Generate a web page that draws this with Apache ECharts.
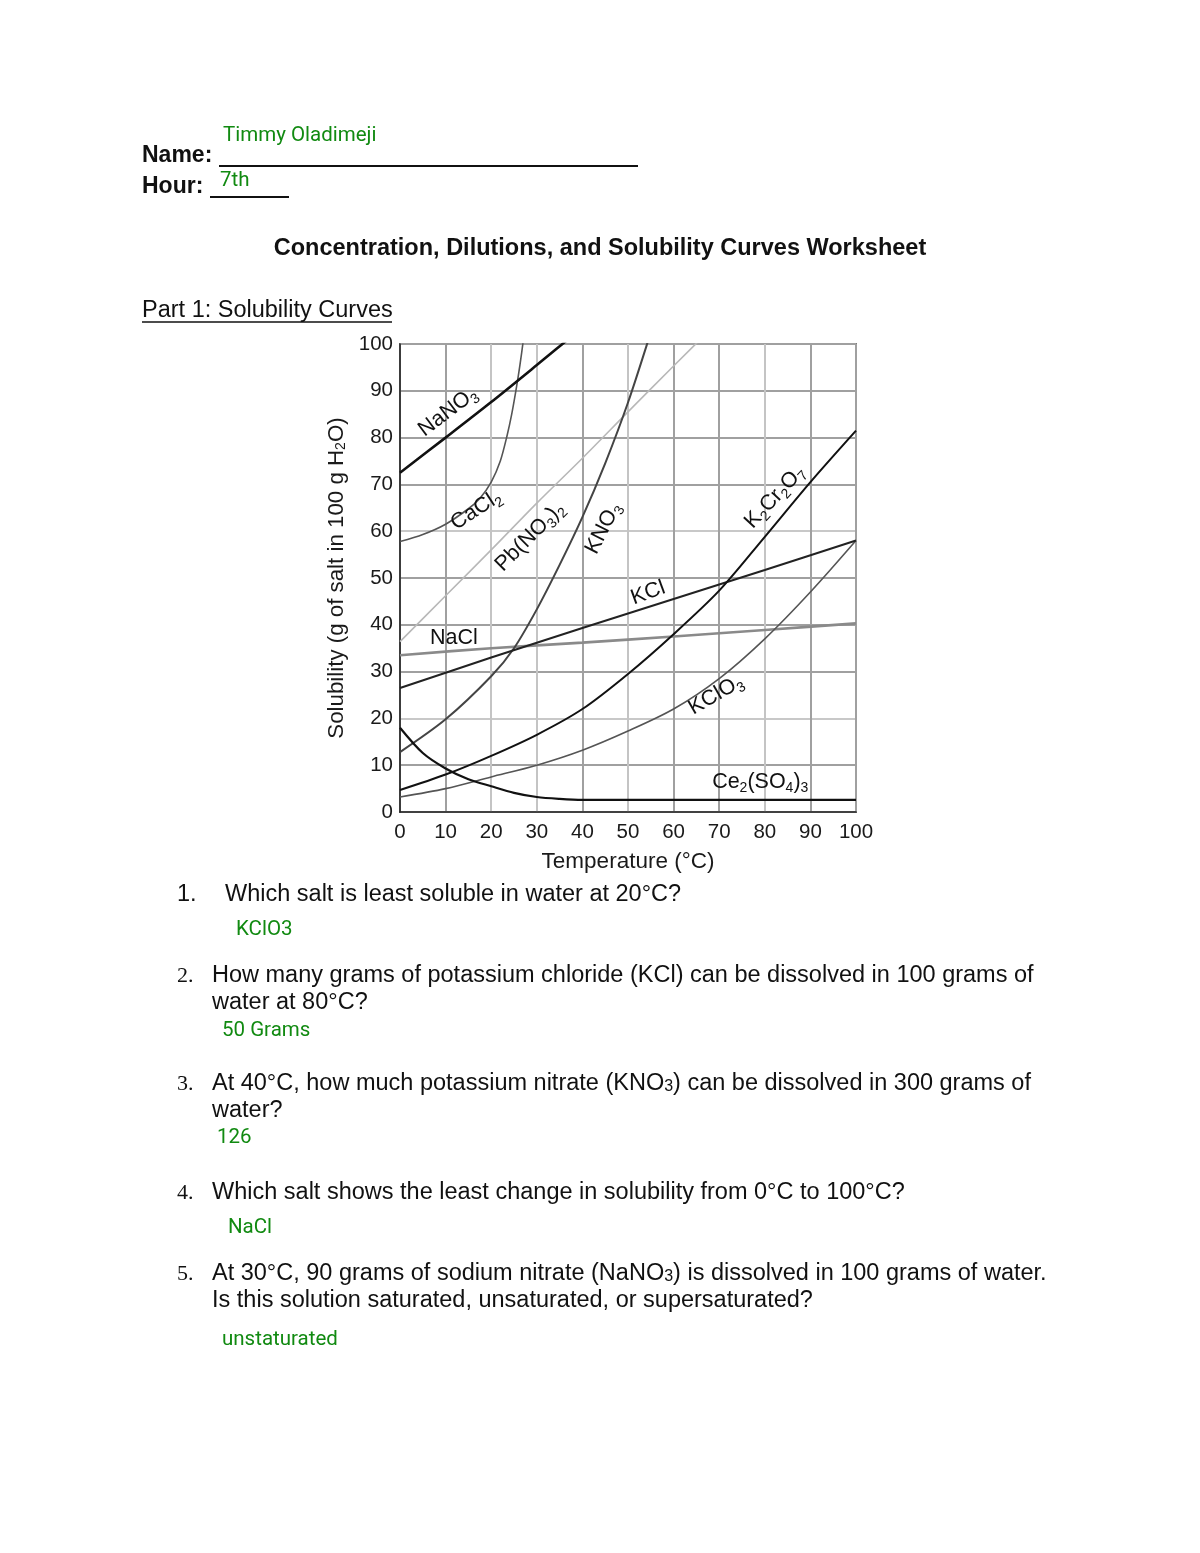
<!DOCTYPE html>
<html>
<head>
<meta charset="utf-8">
<script src="https://cdn.jsdelivr.net/npm/echarts@6/dist/echarts.min.js"></script>
<style>
html,body{margin:0;padding:0;background:#fff;}
#chart{width:1200px;height:1553px;}
</style>
</head>
<body>
<div id="chart"></div>
<script>
// ---- Data (temperature °C, solubility g / 100 g H2O) ----
const xTicks = [0, 10, 20, 30, 40, 50, 60, 70, 80, 90, 100];
const yTicks = [0, 10, 20, 30, 40, 50, 60, 70, 80, 90, 100];

const nano3 = [[0,72.5],[10,80],[20,87.6],[30,95.5],[40,103.5]];
const cacl2 = [[0,57.8],[5,59.3],[10,61.5],[15,64.8],[17.5,67],[20,70.5],[22,75],[23.5,80.5],[24.5,85],[25.5,90.5],[26.3,95.5],[27,100.5],[27.5,105]];
const pbno32 = [[0,36.4],[10,46.2],[20,56],[30,66],[40,75.6],[50,85.5],[60,95.3],[70,105]];
const kno3 = [[0,12.8],[10,19.8],[20,29],[25,35],[30,43.3],[35,52.8],[40,63],[45,74.5],[50,87.5],[55,102.5],[60,118]];
const kcl = [[0,26.5],[20,33],[40,39.3],[60,45.5],[80,51.7],[100,58]];
const nacl = [[0,33.5],[20,35],[40,36.2],[60,37.5],[80,38.9],[100,40.3]];
const k2cr2o7 = [[0,4.7],[10,8],[20,12],[30,16.5],[40,22],[50,29.5],[60,38],[70,47.3],[80,58.8],[90,70.5],[100,81.5]];
const kclo3 = [[0,3.2],[10,5],[20,7.5],[30,10],[40,13.2],[50,17.3],[60,22],[70,28.5],[80,37],[90,47],[100,58]];
const ce2so43 = [[0,18],[5,12.6],[10,9.3],[15,7],[20,5.5],[25,4.1],[30,3.2],[35,2.8],[40,2.6],[60,2.6],[80,2.6],[100,2.6]];

// curve labels: [T, S, text, rotation in degrees]
const curveLabels = [
  [10.5, 85.5, '{n|NaNO}{s|3}', 37],
  [16.7, 64.5, '{n|CaCl}{s|2}', 33],
  [28.5, 58.8, '{n|Pb(NO}{s|3}{n|)}{s|2}', 45],
  [44.6, 60.6, '{n|KNO}{s|3}', 63],
  [82.2, 67.3, '{n|K}{s|2}{n|Cr}{s|2}{n|O}{s|7}', 47],
  [54.4, 46.8, '{n|KCl}', 20],
  [11.8, 37.2, '{n|NaCl}', 0],
  [69.3, 25.0, '{n|KClO}{s|3}', 30],
  [79.0, 6.4, '{n|Ce}{s|2}{n|(SO}{s|4}{n|)}{s|3}', 0]
];

const FONT = '"Liberation Sans", Arial, Helvetica, sans-serif';
const INK = '#111';
const labelRich = {
  n: {fontSize: 21.5, fontFamily: FONT, fill: INK, lineHeight: 27, verticalAlign: 'middle'},
  s: {fontSize: 14, fontFamily: FONT, fill: INK, lineHeight: 15, verticalAlign: 'bottom'}
};

function curve(name, data, color, width) {
  return {
    name: name, type: 'line', data: data, smooth: 0.3, symbol: 'none',
    clip: true, silent: true,
    lineStyle: {color: color, width: width}
  };
}

const series = [
  curve('Pb(NO3)2', pbno32, '#b8b8b8', 1.6),
  curve('NaCl', nacl, '#8a8a8a', 2.6),
  curve('CaCl2', cacl2, '#555', 1.6),
  curve('KClO3', kclo3, '#555', 1.6),
  curve('KNO3', kno3, '#444', 2),
  curve('KCl', kcl, '#222', 2),
  curve('K2Cr2O7', k2cr2o7, '#111', 2),
  curve('Ce2(SO4)3', ce2so43, '#111', 2.2),
  curve('NaNO3', nano3, '#111', 2.6)
];

const GREEN = '#118a11';
function txt(x, y, text, opts) {
  opts = opts || {};
  return {
    type: 'text', silent: true,
    style: Object.assign({
      x: x, y: y, text: text,
      font: opts.font || ('23.5px ' + FONT),
      fill: opts.fill || INK,
      textAlign: opts.align || 'left', align: opts.align || 'left',
      textVerticalAlign: 'middle', verticalAlign: 'middle'
    }, opts.extra || {})
  };
}
function hline(x1, x2, y, w) {
  return {type: 'line', silent: true, shape: {x1: x1, y1: y, x2: x2, y2: y}, style: {stroke: INK, lineWidth: w || 1.6}};
}
const GF = '20.5px Roboto, "Noto Sans", sans-serif';
const QF = '23.5px ' + FONT;
const NF = '22px "Liberation Serif", "DejaVu Serif", serif';
const subRich = {rich: {s: {font: '16px ' + FONT, fill: INK, padding: [6, 0, 0, 0]}}};

const pageText = [
  txt(223, 136, 'Timmy Oladimeji', {font: GF, fill: GREEN}),
  txt(142, 156, 'Name:', {font: 'bold 23px ' + FONT}),
  hline(219, 638, 166, 1.8),
  txt(220, 181, '7th', {font: GF, fill: GREEN}),
  txt(142, 187, 'Hour:', {font: 'bold 23px ' + FONT}),
  hline(210, 289, 197, 1.8),
  txt(600, 249, 'Concentration, Dilutions, and Solubility Curves Worksheet', {font: 'bold 23.5px ' + FONT, align: 'center'}),
  txt(142, 311, 'Part 1: Solubility Curves', {font: QF}),
  hline(142, 392, 322, 1.4),

  txt(177, 895, '1.', {font: QF}),
  txt(225, 895, 'Which salt is least soluble in water at 20°C?', {font: QF}),
  txt(236, 930, 'KClO3', {font: GF, fill: GREEN}),

  txt(177, 976, '2.', {font: NF}),
  txt(212, 976, 'How many grams of potassium chloride (KCl) can be dissolved in 100 grams of', {font: QF}),
  txt(212, 1003, 'water at 80°C?', {font: QF}),
  txt(222, 1031, '50 Grams', {font: GF, fill: GREEN}),

  txt(177, 1084, '3.', {font: NF}),
  txt(212, 1084, 'At 40°C, how much potassium nitrate (KNO{s|3}) can be dissolved in 300 grams of', {font: QF, extra: subRich}),
  txt(212, 1111, 'water?', {font: QF}),
  txt(217, 1138, '126', {font: GF, fill: GREEN}),

  txt(177, 1193, '4.', {font: NF}),
  txt(212, 1193, 'Which salt shows the least change in solubility from 0°C to 100°C?', {font: QF}),
  txt(228, 1228, 'NaCl', {font: GF, fill: GREEN}),

  txt(177, 1274, '5.', {font: NF}),
  txt(212, 1274, 'At 30°C, 90 grams of sodium nitrate (NaNO{s|3}) is dissolved in 100 grams of water.', {font: QF, extra: subRich}),
  txt(212, 1301, 'Is this solution saturated, unsaturated, or supersaturated?', {font: QF}),
  txt(222, 1340, 'unstaturated', {font: GF, fill: GREEN})
];

const chart = echarts.init(document.getElementById('chart'), null, {renderer: 'canvas'});
chart.setOption({
  animation: false,
  backgroundColor: '#fff',
  grid: {left: 400, top: 344, width: 456, height: 468, show: true, borderColor: '#222', borderWidth: 1.6, containLabel: false},
  xAxis: {
    type: 'value', min: xTicks[0], max: xTicks[xTicks.length - 1], interval: 10,
    name: 'Temperature (°C)', nameLocation: 'middle', nameGap: 38,
    nameTextStyle: {fontSize: 22.5, fontFamily: FONT, color: '#1a1a1a'},
    axisLine: {show: true, lineStyle: {color: '#222', width: 1.6}},
    axisTick: {show: false},
    axisLabel: {fontSize: 20.5, fontFamily: FONT, color: '#1a1a1a', margin: 10,
      formatter: v => xTicks.indexOf(v) >= 0 ? String(v) : ''},
    splitLine: {show: true, lineStyle: {color: ['#a0a0a0','#a0a0a0','#c4c4c4','#c4c4c4','#a0a0a0','#c4c4c4','#a0a0a0','#a0a0a0','#c4c4c4','#a0a0a0','#a0a0a0'], width: 2}}
  },
  yAxis: {
    type: 'value', min: yTicks[0], max: yTicks[yTicks.length - 1], interval: 10,
    name: 'Solubility (g of salt in 100 g H{s|2}O)', nameLocation: 'middle', nameGap: 52,
    nameTextStyle: {fontSize: 22.3, fontFamily: FONT, color: '#1a1a1a', rich: {
      s: {fontSize: 14, fontFamily: FONT, color: '#1a1a1a', verticalAlign: 'bottom', lineHeight: 15}
    }},
    axisLine: {show: true, lineStyle: {color: '#222', width: 1.6}},
    axisTick: {show: false},
    axisLabel: {fontSize: 20.5, fontFamily: FONT, color: '#1a1a1a', margin: 7,
      formatter: v => yTicks.indexOf(v) >= 0 ? String(v) : ''},
    splitLine: {show: true, lineStyle: {color: ['#a0a0a0','#a0a0a0','#c8c8c8','#a0a0a0','#a0a0a0','#a0a0a0','#c8c8c8','#a0a0a0','#a0a0a0','#a0a0a0','#a0a0a0'], width: 2}}
  },
  series: series,
  graphic: pageText
});

// Curve labels positioned from data coordinates via the chart's own scales
const labelGraphics = curveLabels.map(l => {
  const p = chart.convertToPixel({gridIndex: 0}, [l[0], l[1]]);
  return {
    type: 'text', silent: true, z: 20, x: p[0], y: p[1], rotation: l[3] * Math.PI / 180,
    style: {text: l[2], rich: labelRich, fill: INK,
      align: 'center', textAlign: 'center', verticalAlign: 'middle', textVerticalAlign: 'middle'}
  };
});
chart.setOption({graphic: pageText.concat(labelGraphics)});
</script>
</body>
</html>
